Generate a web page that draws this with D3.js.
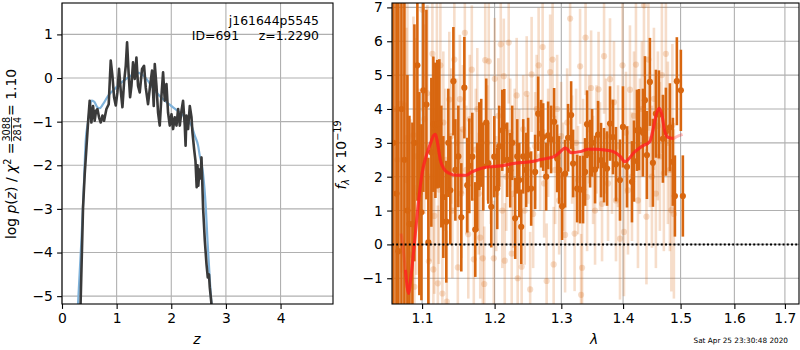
<!DOCTYPE html>
<html>
<head>
<meta charset="utf-8">
<script src="https://cdn.jsdelivr.net/npm/d3@7"></script>
<style>
  body { margin: 0; background: #fff; }
  svg { display: block; font-family: "DejaVu Sans", sans-serif; }
</style>
</head>
<body>
<svg width="800" height="350"></svg>
<script>
//redshift grid and log p(z) (the noisy black curve)
const pzZ = [0.340, 0.385, 0.416, 0.447, 0.478, 0.507, 0.538, 0.568, 0.598, 0.623, 0.648, 0.678, 0.709, 0.740, 0.770,
  0.813, 0.855, 0.892, 0.923, 0.953, 0.984, 1.014, 1.044, 1.075, 1.106, 1.136, 1.167, 1.191, 1.222, 1.246, 1.271,
  1.300, 1.332, 1.362, 1.392, 1.423, 1.465, 1.502, 1.533, 1.575, 1.612, 1.648, 1.679, 1.698, 1.729, 1.758, 1.789,
  1.820, 1.850, 1.881, 1.912, 1.941, 1.973, 2.004, 2.033, 2.064, 2.095, 2.125, 2.156, 2.187, 2.216, 2.247, 2.262,
  2.278, 2.308, 2.339, 2.370, 2.388, 2.418, 2.443, 2.465, 2.480, 2.495, 2.515, 2.535, 2.553, 2.582, 2.614, 2.645,
  2.668, 2.690, 2.705, 2.736]
const pzLog = [-5.18, -2.97, -2.20, -1.60, -1.00, -0.52, -1.02, -0.64, -0.98, -0.75, -0.71, -0.90, -1.02, -0.86, -0.98,
  -0.71, -0.60, 0.40, 0.05, -0.44, -0.63, -0.33, 0.21, -0.29, -0.67, -0.10, 0.28, 0.82, 0.05, -0.44, -0.18,
  0.36, -0.02, 0.47, -0.18, -0.33, 0.21, 0.28, -0.22, -0.60, -0.18, 0.17, -0.64, 0.32, -0.18, -0.79, -1.09,
  -0.41, 0.13, -0.52, -0.14, -0.79, -1.09, -0.83, -1.17, -0.90, -1.09, -0.71, -1.09, -0.75, -0.52, -1.09, -1.55,
  -0.86, -1.17, -0.64, -0.90, -1.25, -1.63, -1.90, -2.50, -2.00, -2.47, -2.10, -2.30, -1.82, -2.97, -3.73, -4.27,
  -4.57, -4.50, -4.80, -5.18]

//the smooth blue curve
const fitZ = [0.293, 0.355, 0.397, 0.434, 0.477, 0.538, 0.587, 0.648, 0.690, 0.751, 0.843, 0.965, 1.088, 1.209, 1.300,
  1.362, 1.454, 1.546, 1.637, 1.729, 1.881, 2.033, 2.156, 2.278, 2.370, 2.430, 2.491, 2.522, 2.553, 2.582, 2.632,
  2.663, 2.692, 2.718, 2.736]
const fitLog = [-5.18, -3.73, -2.58, -1.44, -1.00, -0.52, -0.54, -0.67, -0.69, -0.60, -0.41, -0.25, -0.10, 0.01, 0.09,
  0.13, 0.09, -0.02, -0.18, -0.33, -0.52, -0.67, -0.79, -0.94, -1.09, -1.32, -1.55, -1.78, -1.95, -2.20, -2.97,
  -3.73, -4.34, -4.88, -5.18]

//spectrum: strong points (dark orange)
const darkWave = [1.0628, 1.0667, 1.0692, 1.0731, 1.0769, 1.0808, 1.0834, 1.0873, 1.0899, 1.0938, 1.0964, 1.0991,
  1.1017, 1.1057, 1.1083, 1.1123, 1.1150, 1.1177, 1.1203, 1.1230, 1.1257, 1.1284, 1.1324, 1.1352, 1.1379, 1.1421,
  1.1448, 1.1489, 1.1530, 1.1572, 1.1613, 1.1641, 1.1683, 1.1725, 1.1753, 1.1781, 1.1809, 1.1838, 1.1880, 1.1909,
  1.1952, 1.1995, 1.2038, 1.2067, 1.2111, 1.2140, 1.2183, 1.2227, 1.2256, 1.2300, 1.2330, 1.2360, 1.2389, 1.2419,
  1.2463, 1.2493, 1.2538, 1.2598, 1.2644, 1.2689, 1.2720, 1.2766, 1.2796, 1.2842, 1.2888, 1.2935, 1.2966, 1.3012,
  1.3059, 1.3106, 1.3154, 1.3185, 1.3249, 1.3296, 1.3344, 1.3376, 1.3408, 1.3457, 1.3489, 1.3537, 1.3586, 1.3635,
  1.3684, 1.3733, 1.3782, 1.3831, 1.3881, 1.3948, 1.3998, 1.4066, 1.4150, 1.4184, 1.4235, 1.4269, 1.4338, 1.4372,
  1.4406, 1.4458, 1.4510, 1.4562, 1.4615, 1.4685, 1.4738, 1.4809, 1.4862, 1.4898, 1.4933, 1.5005, 1.5041]
const darkFlux = [3.0, 1.5, -0.2, 4.0, 2.5, 1.0, 0.6, 0.6, 3.0, 5.29, 1.5, 0.95,
  4.55, 4.13, 0.06, 2.72, 3.55, 3.37, 3.55, 3.57, 2.3, 1.4, 0.67, 3.0, 1.6, 4.82,
  2.2, 2.6, 0.8, 4.63, 1.75, 2.32, 2.59, 0.44, 1.7, 2.9, 3.0, 2.3, 3.6, 2.4,
  1.11, 2.59, 1.65, 2.9, 3.37, 3.49, 2.5, 2.19, 3.0, 0.77, 2.6, 1.9, 0.52, 2.6,
  2.2, 2.64, 1.65, 2.14, 3.86, 3.27, 3.17, 2.0, 3.22, 3.1, 3.62, 2.54, 2.2, 1.13,
  2.09, 3.15, 3.82, 2.39, 1.65, 1.62, 1.62, 2.14, 3.55, 2.68, 3.0, 2.21, 3.24, 2.49,
  2.34, 2.24, 3.57, 3.17, 2.37, 1.9, 3.47, 2.29, 1.85, 2.46, 3.37, 3.39, 3.3, 4.26,
  2.64, 4.8, 2.41, 3.86, 3.84, 3.12, 3.33, 3.46, 2.44, 1.43, 4.82, 4.55, 1.43]
const darkErr = [10, 9, 8, 6, 6, 4, 3.2, 3.0, 3.5, 4, 3, 2.6,
  3, 2.8, 2.5, 2.2, 2.0, 2.0, 1.9, 1.9, 1.8, 1.8, 1.8, 1.6, 1.6, 1.6,
  1.5, 1.5, 1.6, 1.5, 1.4, 1.4, 1.3, 1.4, 1.3, 1.3, 1.3, 1.3, 1.3, 1.2,
  1.2, 1.2, 1.2, 1.2, 1.2, 1.1, 1.1, 1.1, 1.1, 1.2, 1.1, 1.1, 1.1, 1.1,
  1.1, 1.1, 1.1, 1.1, 1.1, 1.0, 1.0, 1.0, 1.0, 1.0, 1.0, 1.0, 1.0, 1.0,
  1.0, 1.0, 1.0, 1.0, 1.0, 1.0, 1.0, 1.0, 1.0, 1.0, 1.0, 1.0, 1.0, 1.1,
  1.1, 1.1, 1.1, 1.1, 1.1, 1.2, 1.2, 1.2, 1.2, 1.2, 1.2, 1.2, 1.3, 1.3,
  1.3, 1.3, 1.3, 1.3, 1.3, 1.3, 1.3, 1.3, 1.3, 1.2, 1.3, 1.2, 1.2]

//spectrum: faint points (light orange)
const lightWave = [1.0641, 1.0679, 1.0731, 1.0769, 1.0795, 1.0808, 1.0847, 1.0886, 1.0899, 1.0925, 1.0964, 1.1004,
  1.1030, 1.1070, 1.1090, 1.1110, 1.1137, 1.1150, 1.1163, 1.1197, 1.1210, 1.1223, 1.1244, 1.1271, 1.1284, 1.1311,
  1.1331, 1.1365, 1.1393, 1.1407, 1.1434, 1.1462, 1.1482, 1.1510, 1.1530, 1.1551, 1.1579, 1.1600, 1.1627, 1.1648,
  1.1676, 1.1704, 1.1732, 1.1753, 1.1774, 1.1795, 1.1831, 1.1852, 1.1866, 1.1895, 1.1916, 1.1945, 1.1988, 1.2002,
  1.2024, 1.2053, 1.2089, 1.2111, 1.2133, 1.2147, 1.2169, 1.2205, 1.2227, 1.2249, 1.2271, 1.2293, 1.2322, 1.2337,
  1.2360, 1.2396, 1.2419, 1.2441, 1.2471, 1.2493, 1.2523, 1.2545, 1.2568, 1.2598, 1.2621, 1.2651, 1.2674, 1.2712,
  1.2735, 1.2773, 1.2796, 1.2827, 1.2865, 1.2881, 1.2904, 1.2935, 1.2966, 1.2997, 1.3028, 1.3059, 1.3091, 1.3138,
  1.3169, 1.3209, 1.3233, 1.3264, 1.3296, 1.3312, 1.3328, 1.3344, 1.3384, 1.3408, 1.3440, 1.3473, 1.3505, 1.3537,
  1.3561, 1.3594, 1.3618, 1.3651, 1.3684, 1.3716, 1.3749, 1.3782, 1.3815, 1.3848, 1.3881, 1.3915, 1.3948, 1.3990,
  1.4015, 1.4049, 1.4082, 1.4116, 1.4150, 1.4184, 1.4218, 1.4252, 1.4286, 1.4320, 1.4355, 1.4398, 1.4432, 1.4458,
  1.4493, 1.4528, 1.4562, 1.4597, 1.4632, 1.4667, 1.4702, 1.4738, 1.4773, 1.4809, 1.4835, 1.4853, 1.4880]
const lightFlux = [4.0, 2.5, 4.16, 4.11, 1.9, 3.15, -0.3, 3.23, -1.25, 2.6, 1.6, 6.93,
  3.7, 4.47, -0.5, 2.0, 5.63, -0.74, 0.84, 5.27, -1.15, 1.62, 5.29, -1.45, 3.6, 2.5,
  -1.69, 4.28, 3.2, 1.0, 5.46, 3.0, -0.68, 4.29, 1.5, 3.4, 6.25, 2.2, 0.3, 3.7,
  5.16, -0.44, 2.8, 4.0, 1.5, 0.2, -0.41, -1.17, 5.44, 3.0, 5.41, 2.3, -0.41, 4.89,
  1.5, 3.8, 5.91, 1.0, 4.97, -0.48, 2.0, 5.96, 3.3, -0.27, 1.5, 3.0, 4.4, -1.0,
  2.4, -0.66, 3.4, 1.0, 4.45, 2.8, -1.33, 5.02, 0.9, 2.9, 4.0, 5.29, 2.6, 5.83,
  1.8, -1.08, 3.0, 5.09, 5.46, -0.59, 2.2, 4.0, 1.3, 3.2, 2.0, 0.28, 3.6, 6.67,
  2.8, 0.32, 3.0, 1.9, 5.26, -1.49, -0.69, 2.7, 6.11, 1.4, 3.4, 4.62, 2.2, 1.0,
  3.1, 4.58, 2.6, 1.2, 5.56, 3.2, 1.8, 4.88, 2.6, 4.2, 1.3, 2.9, 0.17, 5.29,
  0.37, 3.3, 1.6, 4.57, 2.0, 3.8, 5.31, 1.3, 2.9, 4.0, 7.06, 0.82, 5.46, 3.1,
  2.0, 4.3, 1.5, 3.5, 2.6, 5.0, 2.1, 5.63, 3.0, 2.2, 1.01, 3.52, 0.9]
const lightErr = [8, 7, 5, 5, 4.5, 4, 4, 3.5, 3, 3.5, 3, 3,
  2.8, 2.6, 2.5, 2.5, 2.4, 2.4, 2.3, 2.3, 2.3, 2.2, 2.2, 2.2, 2.1, 2.1,
  2.1, 2.0, 2.0, 2.0, 2.0, 1.9, 2.0, 1.9, 1.9, 1.9, 2.0, 1.9, 1.9, 1.9,
  1.9, 1.8, 1.8, 1.8, 1.8, 1.8, 1.8, 1.7, 1.8, 1.7, 1.8, 1.7, 1.7, 1.8,
  1.7, 1.7, 1.8, 1.7, 1.7, 1.7, 1.6, 1.8, 1.6, 1.7, 1.6, 1.6, 1.7, 1.7,
  1.6, 1.7, 1.6, 1.6, 1.7, 1.6, 1.7, 1.7, 1.6, 1.6, 1.6, 1.7, 1.6, 1.7,
  1.6, 1.7, 1.6, 1.7, 1.7, 1.7, 1.6, 1.6, 1.6, 1.6, 1.6, 1.7, 1.6, 1.7,
  1.6, 1.7, 1.6, 1.6, 1.7, 1.8, 1.7, 1.6, 1.7, 1.6, 1.6, 1.7, 1.6, 1.6,
  1.6, 1.7, 1.6, 1.7, 1.7, 1.7, 1.7, 1.8, 1.7, 1.8, 1.8, 1.8, 1.8, 1.9,
  1.9, 1.8, 1.9, 1.9, 1.9, 1.9, 2.0, 2.0, 2.0, 2.0, 2.1, 2.0, 2.1, 2.0,
  2.1, 2.1, 2.2, 2.2, 2.2, 2.3, 2.3, 2.3, 2.4, 2.4, 2.4, 2.4, 2.5]

//best fit model (red line)
const modelWave = [1.0727, 1.0756, 1.0782, 1.0825, 1.0847, 1.0869, 1.0893, 1.0912, 1.0955, 1.1000, 1.1066, 1.1110,
  1.1154, 1.1177, 1.1207, 1.1244, 1.1288, 1.1356, 1.1472, 1.1586, 1.1679, 1.1795, 1.1913, 1.2034, 1.2154, 1.2275,
  1.2399, 1.2523, 1.2648, 1.2776, 1.2904, 1.2981, 1.3059, 1.3095, 1.3149, 1.3296, 1.3429, 1.3565, 1.3700, 1.3837,
  1.3948, 1.4032, 1.4087, 1.4172, 1.4315, 1.4458, 1.4505, 1.4574, 1.4620, 1.4662, 1.4720, 1.4778, 1.4867, 1.4928,
  1.5036]
const modelFlux = [0.32, -0.2, -0.75, -1.45, -1.1, -0.65, -0.1, 0.33, 1.3, 2.1, 2.69, 2.98,
  3.22, 3.25, 2.98, 2.49, 2.24, 2.11, 2.04, 2.04, 2.14, 2.24, 2.29, 2.31, 2.34, 2.39,
  2.42, 2.44, 2.49, 2.54, 2.61, 2.73, 2.85, 2.81, 2.71, 2.74, 2.81, 2.81, 2.79, 2.74,
  2.61, 2.44, 2.51, 2.69, 2.89, 3.04, 3.33, 3.87, 4.02, 3.87, 3.33, 3.16, 3.13, 3.18,
  3.25]

const leftXTicks = [0, 1, 2, 3, 4]
const leftYTicks = [-5, -4, -3, -2, -1, 0, 1]
const rightXTicks = [1.1, 1.2, 1.3, 1.4, 1.5, 1.6, 1.7]
const rightYTicks = [-1, 0, 1, 2, 3, 4, 5, 6, 7]

const svg = d3.select('svg')
const orange = '#d8660f'
const tickFont = '13.9px'

//the two panels in pixels
const boxL = { left: 62, right: 333, top: 3, bottom: 304 }
const boxR = { left: 392, right: 799, top: 3, bottom: 304 }

const xZ = d3.scaleLinear().domain([0, 4.96]).range([boxL.left, boxL.right])
const yP = d3.scaleLinear().domain([-5.18, 1.72]).range([boxL.bottom, boxL.top])
const xW = d3.scaleLog().domain([1.061, 1.729]).range([boxR.left, boxR.right])
const yF = d3.scaleLinear().domain([-1.76, 7.13]).range([boxR.bottom, boxR.top])

//clip paths so the curves stay inside the frames
const defs = svg.append('defs')
function addClip(id, box) {
  defs.append('clipPath').attr('id', id)
    .append('rect')
    .attr('x', box.left).attr('y', box.top)
    .attr('width', box.right - box.left).attr('height', box.bottom - box.top)
}
addClip('clipL', boxL)
addClip('clipR', boxR)

//grid lines first, data goes on top
function drawGrid(box, x, y, xTicks, yTicks) {
  const g = svg.append('g')
  g.selectAll('.vgrid').data(xTicks).join('line')
    .attr('x1', d => x(d)).attr('x2', d => x(d))
    .attr('y1', box.top).attr('y2', box.bottom)
    .attr('stroke', '#b0b0b0').attr('stroke-width', 1.1)
  g.selectAll('.hgrid').data(yTicks).join('line')
    .attr('y1', d => y(d)).attr('y2', d => y(d))
    .attr('x1', box.left).attr('x2', box.right)
    .attr('stroke', '#b0b0b0').attr('stroke-width', 1.1)
}

//axes with ticks and labels, plus the black frame
function drawAxes(box, x, y, xTicks, yTicks, xFmt) {
  const bottom = svg.append('g')
    .attr('transform', `translate(0,${box.bottom})`)
    .call(d3.axisBottom(x).tickValues(xTicks).tickFormat(xFmt).tickSize(4.9).tickPadding(4.2))
  const left = svg.append('g')
    .attr('transform', `translate(${box.left},0)`)
    .call(d3.axisLeft(y).tickValues(yTicks).tickFormat(d3.format('d')).tickSize(4.9).tickPadding(4.2))
  for (const a of [bottom, left]) {
    a.select('.domain').remove()
    a.selectAll('line').attr('stroke', '#000').attr('stroke-width', 1.1)
    a.selectAll('text').attr('fill', '#000')
      .style('font-size', tickFont)
      .style('font-family', '"DejaVu Sans", sans-serif')
  }
  svg.append('rect')
    .attr('x', box.left).attr('y', box.top)
    .attr('width', box.right - box.left).attr('height', box.bottom - box.top)
    .attr('fill', 'none').attr('stroke', '#000').attr('stroke-width', 1.1)
}

drawGrid(boxL, xZ, yP, leftXTicks, leftYTicks)
drawGrid(boxR, xW, yF, rightXTicks, rightYTicks)

//---- left panel: p(z)
const pz = pzZ.map((z, i) => ({ z: z, v: pzLog[i] }))
const fit = fitZ.map((z, i) => ({ z: z, v: fitLog[i] }))
const gL = svg.append('g').attr('clip-path', 'url(#clipL)')
const zLine = d3.line().x(d => xZ(d.z)).y(d => yP(d.v))

gL.append('path').datum(fit)
  .attr('d', zLine.curve(d3.curveMonotoneX))
  .attr('fill', 'none').attr('stroke', '#7fb2da').attr('stroke-width', 2.2)
gL.append('path').datum(pz)
  .attr('d', zLine.curve(d3.curveLinear))
  .attr('fill', 'none').attr('stroke', '#3a3a3a').attr('stroke-width', 2.6)
  .attr('stroke-linejoin', 'round')

//---- right panel: spectrum
const dark = darkWave.map((w, i) => ({ w: w, f: darkFlux[i], e: darkErr[i] }))
const light = lightWave.map((w, i) => ({ w: w, f: lightFlux[i], e: lightErr[i] }))
const model = modelWave.map((w, i) => ({ w: w, f: modelFlux[i] }))
const gR = svg.append('g').attr('clip-path', 'url(#clipR)')

function drawPoints(data, opacity) {
  const g = gR.append('g').attr('opacity', 1)
  g.selectAll('line').data(data).join('line')
    .attr('x1', d => xW(d.w)).attr('x2', d => xW(d.w))
    .attr('y1', d => yF(d.f - d.e)).attr('y2', d => yF(d.f + d.e))
    .attr('stroke', orange).attr('stroke-width', 2.6).attr('stroke-opacity', opacity)
  g.selectAll('circle').data(data).join('circle')
    .attr('cx', d => xW(d.w)).attr('cy', d => yF(d.f))
    .attr('r', 3.1)
    .attr('fill', orange).attr('fill-opacity', opacity)
}
drawPoints(light, 0.22)
drawPoints(dark, 1)

const mLine = d3.line().x(d => xW(d.w)).y(d => yF(d.f)).curve(d3.curveMonotoneX)
//whole model faint, then the well constrained middle part stronger
gR.append('path').datum(model)
  .attr('d', mLine)
  .attr('fill', 'none').attr('stroke', '#ff2020').attr('stroke-width', 3).attr('stroke-opacity', 0.3)
gR.append('path').datum(model.filter(d => d.w >= 1.0782 && d.w <= 1.4867))
  .attr('d', mLine)
  .attr('fill', 'none').attr('stroke', '#ff2020').attr('stroke-width', 3).attr('stroke-opacity', 0.75)

//zero line
gR.append('line')
  .attr('x1', boxR.left).attr('x2', boxR.right)
  .attr('y1', yF(0)).attr('y2', yF(0))
  .attr('stroke', '#000').attr('stroke-width', 2).attr('stroke-dasharray', '2,2.2')

drawAxes(boxL, xZ, yP, leftXTicks, leftYTicks, d3.format('d'))
drawAxes(boxR, xW, yF, rightXTicks, rightYTicks, d3.format('.1f'))

//---- labels
svg.append('text').attr('x', 197).attr('y', 344)
  .attr('text-anchor', 'middle').style('font-size', '13.9px').style('font-style', 'italic')
  .text('z')
svg.append('text').attr('x', 594).attr('y', 344)
  .attr('text-anchor', 'middle').style('font-size', '13.9px').style('font-style', 'italic')
  .text('λ')

//object name and redshift in the top right corner of the p(z) panel
svg.append('text').attr('x', 319).attr('y', 25)
  .attr('text-anchor', 'end').style('font-size', '12.4px')
  .text('j161644p5545')
svg.append('text').attr('x', 319).attr('y', 40)
  .attr('text-anchor', 'end').style('font-size', '12.4px').style('white-space', 'pre')
  .text('ID=691     z=1.2290')

//timestamp
svg.append('text').attr('x', 788).attr('y', 343)
  .attr('text-anchor', 'end').style('font-size', '7.3px')
  .text('Sat Apr 25 23:30:48 2020')

//left y label with the chi2 fraction, built piece by piece along the rotated axis
const yl = svg.append('g')
const part1 = yl.append('text').attr('x', 0).attr('y', 0).style('font-size', '13.9px')
part1.append('tspan').text('log ')
part1.append('tspan').style('font-style', 'italic').text('p')
part1.append('tspan').text('(')
part1.append('tspan').style('font-style', 'italic').text('z')
part1.append('tspan').text(') / ')
part1.append('tspan').style('font-style', 'italic').text('χ')
part1.append('tspan').attr('dy', -5).style('font-size', '9.7px').text('2')
part1.append('tspan').attr('dy', 5).text(' = ')
const w1 = part1.node().getComputedTextLength()
const num = yl.append('text').attr('y', -6).style('font-size', '9.7px').text('3088')
const den = yl.append('text').attr('y', 5.5).style('font-size', '9.7px').text('2814')
const wf = Math.max(num.node().getComputedTextLength(), den.node().getComputedTextLength())
num.attr('x', w1 + 1).attr('textLength', null)
den.attr('x', w1 + 1)
yl.append('line').attr('x1', w1 + 1).attr('x2', w1 + 1 + wf)
  .attr('y1', -4).attr('y2', -4).attr('stroke', '#000').attr('stroke-width', 0.8)
const part2 = yl.append('text').attr('x', w1 + wf + 2).attr('y', 0).style('font-size', '13.9px').text(' = 1.10')
const total = w1 + wf + 2 + part2.node().getComputedTextLength()
yl.attr('transform', `translate(15.5,${154 + total / 2}) rotate(-90)`)

//right y label
const yr = svg.append('text')
  .attr('transform', 'translate(346,155) rotate(-90)')
  .attr('text-anchor', 'middle').style('font-size', '13.9px')
yr.append('tspan').style('font-style', 'italic').text('f')
yr.append('tspan').attr('dy', 3).style('font-size', '9.7px').style('font-style', 'italic').text('λ')
yr.append('tspan').attr('dy', -3).text(' × 10')
yr.append('tspan').attr('dy', -5.5).style('font-size', '9.7px').text('−19')
</script>
</body>
</html>
